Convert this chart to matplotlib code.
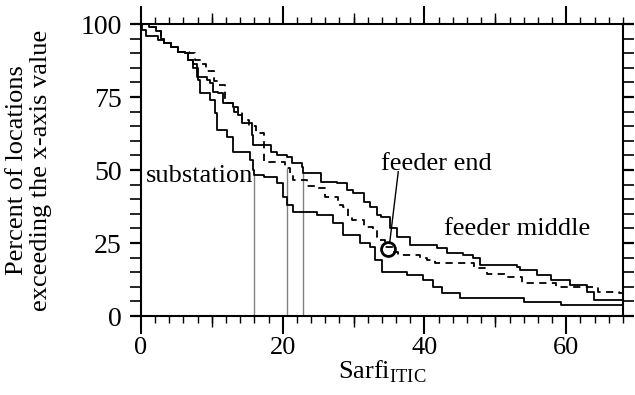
import matplotlib.pyplot as plt
from matplotlib.ticker import MultipleLocator, NullFormatter

plt.rcParams['font.family'] = ['Liberation Serif', 'DejaVu Serif']
plt.rcParams['mathtext.fontset'] = 'custom'
plt.rcParams['mathtext.rm'] = 'Liberation Serif'
plt.rcParams['font.size'] = 19

# step curves: (SARFI value, percent of locations exceeding it)
sub_x = [0, 0.2, 0.7, 2.4, 3.3, 4.2, 5.2, 6.2, 6.6, 7.3, 8.1, 8.3, 9.7, 10.5, 10.7,
         12.1, 13.0, 15.4, 15.8, 16.0, 17.3, 19.2, 20.1, 20.6, 21.5, 24.8, 27.1,
         28.5, 30.9, 32.3, 33.0, 34.0, 37.5, 39.8, 41.2, 42.5, 45.0, 54.0, 59.2, 68.0]
sub_y = [100, 98, 96, 94.5, 93.5, 92.2, 90.5, 90, 87.7, 85, 80.8, 76.5, 74, 69.5, 63.7,
         61.4, 56.3, 53.4, 50, 48.3, 47.7, 45.4, 40.9, 38, 35.7, 34.6, 31.8,
         27.7, 25, 23.7, 19.2, 15.2, 14, 12.3, 10, 7.8, 6.1, 4.9, 3.8, 3.8]

mid_x = [0, 1.2, 2.1, 2.8, 3.3, 4.2, 5.2, 6.2, 6.6, 7.3, 7.9, 9.3, 9.7, 10.2, 10.9,
         11.6, 13.0, 13.7, 14.2, 15.6, 15.8, 18.3, 19.2, 20.6, 21.3, 22.7, 22.9,
         25.4, 27.6, 29.0, 29.9, 31.4, 32.3, 33.3, 33.8, 35.2, 36.1, 38.0, 41.8,
         43.2, 45.5, 46.9, 47.9, 53.0, 53.5, 55.9, 57.8, 60.6, 63.0, 63.9, 68.0]
mid_y = [100, 99, 97.5, 95, 93.5, 92.2, 90.5, 90, 87.7, 86.5, 82, 80.8, 79.7, 76.8, 76.3,
         72.9, 71.7, 68.8, 66, 62, 58.6, 56.3, 55.1, 54.6, 52.3, 51.1, 48.9,
         46, 45.4, 43.2, 42, 39, 37.4, 34.6, 34, 30.1, 27.2, 24.3, 23.2,
         21.5, 20.9, 19.9, 17.5, 16.9, 15.8, 14, 12.3, 10.6, 8.3, 5.5, 5.5]

end_x = [0, 1.2, 2.1, 2.8, 3.3, 4.2, 5.2, 6.8, 7.6, 8.4, 9.2, 10.3, 10.8, 11.9, 12.2,
         13.1, 14.2, 15.2, 16.3, 17.3, 20.3, 21.0, 21.5, 23.4, 24.6, 26.0, 27.8,
         28.5, 29.2, 29.8, 31.4, 32.8, 33.3, 33.6, 34.5, 35.5, 36.3, 39.4, 40.4,
         41.5, 44.0, 47.0, 48.8, 51.4, 53.8, 58.5, 64.5, 67.5, 68.0]
end_y = [100, 99, 97.5, 95, 93.5, 92.2, 90.5, 90, 87.7, 86.5, 84, 80.5, 79, 74.5, 73,
         70, 67, 65, 62.6, 52.7, 50.7, 49, 46.6, 44.5, 44, 40.7, 38,
         37.3, 34, 32.9, 30.6, 29.5, 27, 26, 23.5, 22, 20.9, 19.9, 19.2,
         18.3, 18.1, 16.5, 14.5, 13.5, 11.2, 10, 8.3, 7.8, 7.8]

# median markers (x where each curve passes 50 %) and their heights
medians = [16.0, 20.6, 22.9]
median_tops = [48.3, 50.7, 48.9]

fig = plt.figure(figsize=(6.35, 3.95), dpi=100)
ax = fig.add_axes([0.222, 0.2, 0.759, 0.739])

ax.vlines(medians, 0, median_tops, color='#808080', lw=1.0)
ax.step(sub_x, sub_y, where='post', color='black', lw=1.3)
ax.step(mid_x, mid_y, where='post', color='black', lw=1.3)
ax.step(end_x, end_y, where='post', color='black', lw=1.3, dashes=[4, 3])

ax.plot([34.9], [22.9], 'o', ms=10, mfc='none', mec='black', mew=2)
ax.plot([36.3, 35.1], [49.4, 25.3], color='black', lw=1.0)

ax.text(0.7, 45.9, 'substation')
ax.text(33.8, 50.0, 'feeder end')
ax.text(42.8, 27.7, 'feeder middle')

ax.set_xlim(0, 68)
ax.set_ylim(0, 100)
ax.xaxis.set_major_locator(MultipleLocator(20))
ax.xaxis.set_minor_locator(MultipleLocator(2))
ax.yaxis.set_major_locator(MultipleLocator(25))
ax.yaxis.set_minor_locator(MultipleLocator(5))

ax.tick_params(axis='x', which='major', direction='out', length=13, width=1.5,
               top=True, pad=2)
ax.tick_params(axis='x', which='minor', direction='out', length=5, width=1.0, top=True)
ax.tick_params(axis='y', which='major', direction='out', length=8, width=1.6,
               right=True, pad=6, labelsize=20)
ax.tick_params(axis='y', which='minor', direction='out', length=8, width=1.2, right=True)

for loc in ['bottom', 'top']:
    sec = ax.secondary_xaxis(loc)
    sec.set_xticks([10, 30, 50])
    sec.xaxis.set_major_formatter(NullFormatter())
    sec.tick_params(direction='out', length=8, width=1.0)
    sec.spines[loc].set_visible(False)

for s in ax.spines.values():
    s.set_linewidth(1.5)

ax.set_xlabel(r'Sarfi$_{\mathregular{ITIC}}$', labelpad=0)
ax.set_ylabel('Percent of locations\nexceeding the x-axis value', labelpad=20,
              linespacing=1.15)

fig.savefig('out.png', dpi=100)
